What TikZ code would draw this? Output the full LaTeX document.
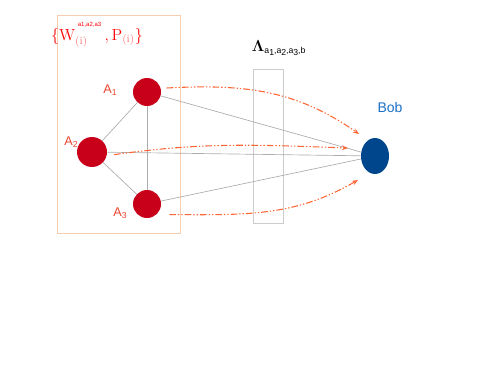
\documentclass[tikz,border=0pt]{standalone}
\usepackage{fontspec}
\newfontfamily\arial{Liberation Sans}
\usepackage{amsmath,amssymb}
\usepackage{tikz}
\usetikzlibrary{arrows.meta,shapes.geometric}

\definecolor{agentred}{HTML}{C8001A}
\definecolor{labelred}{HTML}{E8452C}
\definecolor{bobblue}{HTML}{00468C}
\definecolor{boblabel}{HTML}{1A70C8}
\definecolor{flow}{HTML}{FF6633}
\definecolor{frame}{HTML}{F6CDB0}

\newcommand{\lowsub}[1]{\raisebox{-0.35ex}{\fontsize{6.5}{7}\selectfont #1}}

\begin{document}
\begin{tikzpicture}[x=0.75pt, y=0.75pt,
  agent/.style={circle, fill=agentred, minimum size=21pt, inner sep=0pt},
  lbl/.style={font=\arial\fontsize{9.5}{10}\selectfont, text=labelred},
  link/.style={gray!65, line width=0.5pt},
  flowarr/.style={flow, line width=0.8pt,
                  dash pattern=on 5pt off 1.5pt on 1pt off 1.5pt on 1pt off 1.5pt,
                  -{Stealth[length=4.5pt, width=3.5pt]}}]
\useasboundingbox (0,0) rectangle (491,368);

% 左框:三个发送方
\node[draw=frame, line width=0.5pt, minimum width=92pt, minimum height=163.5pt,
      inner sep=0pt] (grp) at (118.5,244) {};
\node[text=red, font=\fontsize{12}{14}\selectfont] (set) at (97,333)
  {$\{\mathrm{W}^{\hspace{2pt}\raisebox{1.1ex}{\arial\fontsize{4.5}{5}\selectfont a1,a2,a3}}_{\textcolor{red!55}{\mathrm{(i)}}}\,,\mathrm{P}_{\textcolor{red!55}{\mathrm{(i)}}}\}$};

\node[agent] (a1) at (147,276) {};
\node[agent, minimum size=22.5pt] (a2) at (92,216) {};
\node[agent] (a3) at (147,164) {};
\node[lbl] (la1) at (110,278) {A\lowsub{1}};
\node[lbl] (la2) at (71,226) {A\lowsub{2}};
\node[lbl] (la3) at (120,155) {A\lowsub{3}};

% 中间:信道
\node[draw=gray!40, line width=0.5pt, minimum width=22.5pt, minimum height=115.5pt,
      inner sep=0pt] (chan) at (268,222) {};
\node[font=\fontsize{13}{14}\selectfont] (lam) at (279,320)
  {$\boldsymbol{\Lambda}_{\text{\arial\fontsize{6.5}{7}\selectfont a\lowsub{1},a\lowsub{2},a\lowsub{3},b}}$};

% 右侧:接收方
\node[ellipse, fill=bobblue, minimum width=21pt, minimum height=27pt, inner sep=0pt] (bob) at (375,212) {};
\node[font=\arial\fontsize{10.5}{11}\selectfont, text=boblabel] (lbob) at (390,261) {Bob};

% 连线
\draw[link] (a1) -- (a2);
\draw[link] (a2) -- (a3);
\draw[link] (a1) -- (a3);
\draw[link] (a1) -- (bob);
\draw[link] (a2) -- (bob);
\draw[link] (a3) -- (bob);

% 信息流
\coordinate (e1) at (359,234);
\coordinate (e2) at (348,220);
\coordinate (e3) at (358,188);
\draw[flowarr] ([shift={(4pt,3pt)}]a1.east) to[out=3, in=145] (e1);
\draw[flowarr] ([shift={(5pt,-2pt)}]a2.east) to[out=8, in=178] (e2);
\draw[flowarr] ([shift={(6pt,-8pt)}]a3.east) to[out=0, in=-150] (e3);
\end{tikzpicture}
\end{document}
